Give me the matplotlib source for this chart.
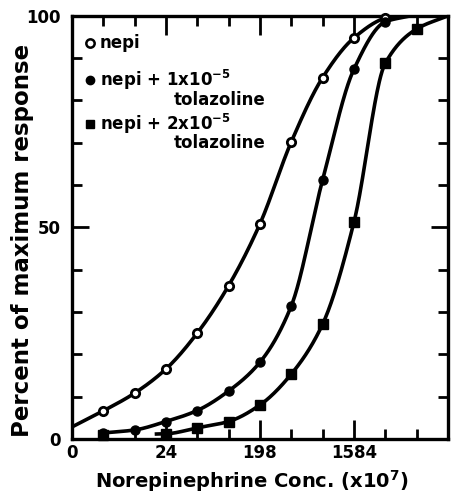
import numpy as np
import matplotlib.pyplot as plt

# x positions are tick steps on the log (x2) concentration scale
x_ticks = list(range(0, 13))
x_labels = {0: "0", 3: "24", 6: "198", 9: "1584"}

# nepi alone (open circles)
x_open = [1, 2, 3, 4, 5, 6, 7, 8, 9, 10]
y_open = [6.6, 10.8, 16.5, 25.0, 36.2, 50.8, 70.2, 85.4, 94.8, 99.5]
# nepi + 1x10-5 tolazoline (filled circles)
x_fill = [1, 2, 3, 4, 5, 6, 7, 8, 9, 10]
y_fill = [1.4, 2.1, 4.1, 6.7, 11.3, 18.1, 31.4, 61.2, 87.4, 98.6]
# nepi + 2x10-5 tolazoline (squares)
x_sq = [1, 3, 4, 5, 6, 7, 8, 9, 10, 11]
y_sq = [1.0, 1.2, 2.6, 4.1, 8.0, 15.3, 27.1, 51.2, 88.8, 96.9]

# where the drawn curves start / stop (no markers there)
open_ends = ([0], [2.8], [10.3], [100])
fill_ends = ([], [], [10.8], [100])
sq_ends = ([2.7], [0.0], [12.0], [100])


def pchip(x, y, xs):
    x = np.asarray(x, float)
    y = np.asarray(y, float)
    h = np.diff(x)
    d = np.diff(y) / h
    m = np.zeros_like(y)
    for k in range(1, len(x) - 1):
        if d[k - 1] * d[k] > 0:
            w1 = 2 * h[k] + h[k - 1]
            w2 = h[k] + 2 * h[k - 1]
            m[k] = (w1 + w2) / (w1 / d[k - 1] + w2 / d[k])
    m[0] = d[0]
    m[-1] = d[-1]
    out = np.empty_like(xs)
    for i, xv in enumerate(xs):
        k = min(max(np.searchsorted(x, xv) - 1, 0), len(x) - 2)
        t = (xv - x[k]) / h[k]
        h00 = 2 * t**3 - 3 * t**2 + 1
        h10 = t**3 - 2 * t**2 + t
        h01 = -2 * t**3 + 3 * t**2
        h11 = t**3 - t**2
        out[i] = h00 * y[k] + h10 * h[k] * m[k] + h01 * y[k + 1] + h11 * h[k] * m[k + 1]
    return out


def curve(xp, yp, ends):
    xa = ends[0] + xp + ends[2]
    ya = ends[1] + yp + ends[3]
    xs = np.linspace(xa[0], xa[-1], 400)
    return xs, np.clip(pchip(xa, ya, xs), 0, 100)


plt.rcParams['font.family'] = 'DejaVu Sans'
plt.rcParams['font.weight'] = 'bold'

fig = plt.figure(figsize=(4.52, 4.97), dpi=100)
ax = fig.add_axes([0.159, 0.117, 0.832, 0.851])

lw = 2.6
ax.plot(*curve(x_open, y_open, open_ends), color='black', lw=lw, zorder=2)
ax.plot(*curve(x_fill, y_fill, fill_ends), color='black', lw=lw, zorder=2)
ax.plot(*curve(x_sq, y_sq, sq_ends), color='black', lw=lw, zorder=2)

ax.plot(x_open, y_open, 'o', ms=6, mfc='white', mec='black', mew=2, ls='none', zorder=3, clip_on=False)
ax.plot(x_fill, y_fill, 'o', ms=6.5, color='black', ls='none', zorder=3, clip_on=False)
ax.plot(x_sq, y_sq, 's', ms=6.5, color='black', ls='none', zorder=3, clip_on=False)

ax.set_xlim(0, 12)
ax.set_ylim(0, 100)

for s in ax.spines.values():
    s.set_linewidth(2.4)

# bottom/top ticks, long every 3 steps
ax.set_xticks([t for t in x_ticks if t % 3 == 0])
ax.set_xticklabels([x_labels.get(t, "") for t in x_ticks if t % 3 == 0])
ax.set_xticks([t for t in x_ticks if t % 3 != 0], minor=True)
ax.tick_params(axis='x', which='major', direction='in', length=14, width=2, top=True,
               labelsize=12, pad=4)
ax.tick_params(axis='x', which='minor', direction='in', length=7, width=2, top=True)

ax.set_yticks([0, 50, 100])
ax.set_yticks([10, 20, 30, 40, 60, 70, 80, 90], minor=True)
ax.tick_params(axis='y', which='major', direction='in', length=12, width=2, right=True,
               labelsize=12, pad=8)
ax.tick_params(axis='y', which='minor', direction='in', length=7, width=2, right=True)

ax.set_xlabel("Norepinephrine Conc. (x10$^{7}$)", fontsize=14, fontweight='bold')
ax.xaxis.set_label_coords(0.48, -0.07)
ax.set_ylabel("Percent of maximum response", fontsize=16.5, fontweight='bold')
ax.yaxis.set_label_coords(-0.1, 0.47)

# legend drawn as text, like the hand lettering
tkw = dict(transform=ax.transAxes, fontsize=12, fontweight='bold', va='center')
ax.plot([0.047], [0.935], 'o', ms=6, mfc='white', mec='black', mew=1.8, transform=ax.transAxes)
ax.text(0.075, 0.935, "nepi", **tkw)
ax.plot([0.047], [0.848], 'o', ms=6, color='black', transform=ax.transAxes)
ax.text(0.075, 0.848, "nepi + 1x10$^{-5}$", **tkw)
ax.text(0.27, 0.8, "tolazoline", **tkw)
ax.plot([0.047], [0.745], 's', ms=6, color='black', transform=ax.transAxes)
ax.text(0.075, 0.745, "nepi + 2x10$^{-5}$", **tkw)
ax.text(0.27, 0.7, "tolazoline", **tkw)

fig.savefig("out.png", dpi=100)
